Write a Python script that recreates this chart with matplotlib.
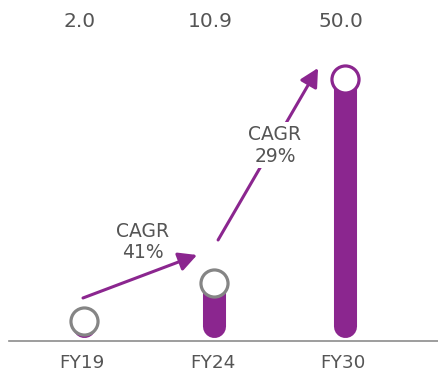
import matplotlib
matplotlib.use("Agg")
import matplotlib.pyplot as plt

# ---- data ----
categories = ["FY19", "FY24", "FY30"]
values = [2.0, 10.9, 50.0]
value_labels = ["2.0", "10.9", "50.0"]
cagr_labels = ["CAGR\n41%", "CAGR\n29%"]

# ---- style ----
PURPLE = "#8b268f"
GREY_EDGE = "#858585"
TEXT = "#555555"
AXIS = "#8c8c8c"

fig = plt.figure(figsize=(4.38, 3.71), dpi=100)
ax = fig.add_axes([0, 0, 1, 1])
ax.set_xlim(-0.64, 2.716)
ax.set_ylim(-5.83, 65.1)
ax.axis("off")

# baseline
ax.axhline(0, xmin=9 / 438, xmax=1, color=AXIS, lw=1.2, zorder=1)

bar_bottom = 2.7   # round cap start (data units)
min_center = 3.8   # minimum circle height so it sits on the bar
xs = list(range(len(categories)))
for i, (x, v) in enumerate(zip(xs, values)):
    yc = max(v, min_center)
    ax.plot([x, x], [bar_bottom, yc], color=PURPLE, lw=16.6,
            solid_capstyle="round", zorder=2)
    edge = PURPLE if i == len(values) - 1 else GREY_EDGE
    ax.plot([x], [yc], marker="o", ms=19.5, mfc="white", mec=edge,
            mew=2.3, zorder=3)
    ax.text(x - 0.03, 0.927, value_labels[i], transform=ax.get_xaxis_transform(),
            ha="center", va="baseline", fontsize=14.5, color=TEXT)
    ax.text(x - 0.01, 0.008, categories[i], transform=ax.get_xaxis_transform(),
            ha="center", va="baseline", fontsize=13.2, color=TEXT)

arrow_kw = dict(arrowstyle="-|>,head_length=0.5,head_width=0.26",
                mutation_scale=22, lw=2.2, color=PURPLE,
                shrinkA=0, shrinkB=0)

# arrow FY19 -> FY24
ax.annotate("", xy=(xs[0] + 0.87, 16.35), xytext=(xs[0] - 0.004, 8.13),
            arrowprops=arrow_kw, zorder=4)
ax.text(xs[0] + 0.456, 18.9, cagr_labels[0], ha="center", va="center",
        fontsize=13.5, color=TEXT, linespacing=1.15, zorder=5)

# arrow FY24 -> FY30
ax.annotate("", xy=(xs[1] + 0.797, 52.1), xytext=(xs[1] + 0.031, 19.22),
            arrowprops=arrow_kw, zorder=4)
ax.text(xs[1] + 0.467, 37.3, cagr_labels[1], ha="center", va="center",
        fontsize=13.5, color=TEXT, linespacing=1.15, zorder=5,
        bbox=dict(boxstyle="square,pad=0.15", fc="white", ec="none"))

fig.savefig("out.png", dpi=100)
